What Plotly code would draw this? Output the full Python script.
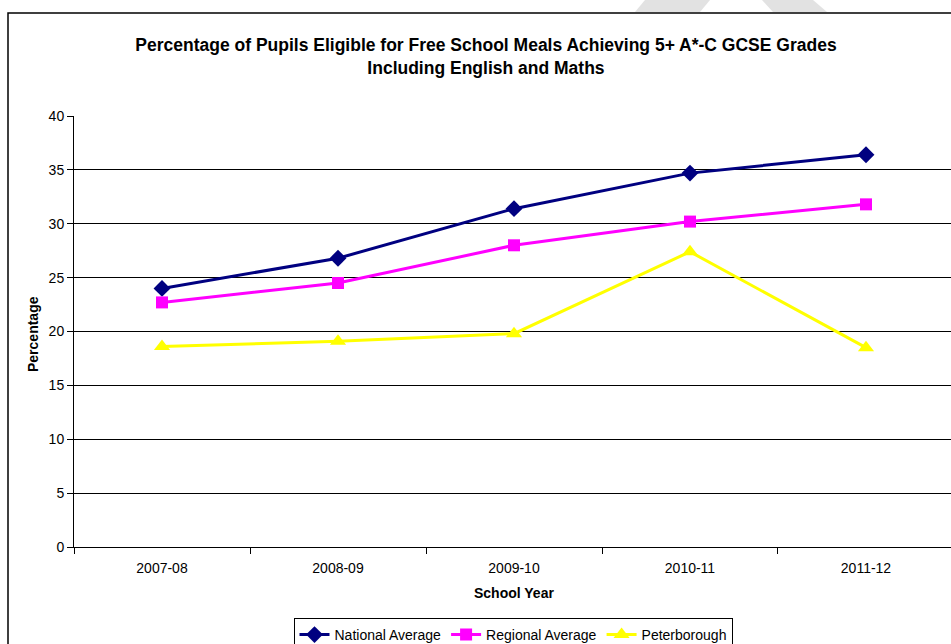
import plotly.graph_objects as go

# School years on the category axis
years = ["2007-08", "2008-09", "2009-10", "2010-11", "2011-12"]

# Percentage of FSM pupils achieving 5+ A*-C including English and Maths
national = [24.0, 26.8, 31.4, 34.7, 36.4]
regional = [22.7, 24.5, 28.0, 30.2, 31.8]
peterborough = [18.6, 19.1, 19.8, 27.4, 18.5]

series_names = ["National Average", "Regional Average", "Peterborough"]
y_ticks = [0, 5, 10, 15, 20, 25, 30, 35, 40]

FONT = "Liberation Sans, Arial, sans-serif"

# Plot area in pixels: left 74, top 116, width 877, height 431
PL, PT, PW, PH = 74, 116, 877, 431


def px(x):
    return (x - PL) / PW


def py(y):
    return (PT + PH - y) / PH


fig = go.Figure()
styles = [
    (national, "#000080", "diamond", 13),
    (regional, "#FF00FF", "square", 12),
    (peterborough, "#FFFF00", "triangle-up", 14),
]
for name, (vals, color, symbol, size) in zip(series_names, styles):
    fig.add_trace(go.Scatter(
        x=years, y=vals, name=name, mode="lines+markers",
        line=dict(color=color, width=3),
        marker=dict(color=color, symbol=symbol, size=size, line=dict(width=0)),
    ))

fig.update_layout(
    width=951, height=644,
    margin=dict(l=PL, r=0, t=PT, b=644 - PT - PH, autoexpand=False),
    paper_bgcolor="white", plot_bgcolor="white",
    font=dict(family=FONT, size=14, color="black"),
    title=dict(
        text="<b>Percentage of Pupils Eligible for Free School Meals Achieving 5+ A*-C GCSE Grades<br>Including English and Maths</b>",
        x=0.511, xanchor="center", y=1 - 51 / 644, yanchor="middle",
        font=dict(family=FONT, size=17.5, color="black"),
    ),
    showlegend=True,
    legend=dict(
        orientation="h", x=px(513), xanchor="center",
        yref="container", y=1 - 618 / 644, yanchor="top",
        bordercolor="black", borderwidth=1, bgcolor="white",
        font=dict(family=FONT, size=14, color="black"),
        itemwidth=30, tracegroupgap=0,
    ),
)

fig.update_xaxes(
    type="category", range=[-0.5, 4.483],
    showline=True, linecolor="black", linewidth=1,
    ticks="outside", tickson="boundaries", ticklen=6, tickcolor="black",
    ticklabelstandoff=8,
    showgrid=False, fixedrange=True,
    tickfont=dict(family=FONT, size=14, color="black"),
)
fig.update_yaxes(
    range=[0, 40], tickvals=y_ticks,
    showline=True, linecolor="black", linewidth=1,
    ticks="outside", ticklen=6, tickcolor="black",
    showgrid=True, gridcolor="black", gridwidth=1, zeroline=False,
    tickfont=dict(family=FONT, size=14, color="black"),
)

# Axis titles
fig.add_annotation(
    text="<b>Percentage</b>", xref="paper", yref="paper",
    x=px(33), y=py(334), xanchor="center", yanchor="middle",
    textangle=-90, showarrow=False,
    font=dict(family=FONT, size=14, color="black"),
)
fig.add_annotation(
    text="<b>School Year</b>", xref="paper", yref="paper",
    x=px(514), y=py(593), xanchor="center", yanchor="middle",
    showarrow=False,
    font=dict(family=FONT, size=14, color="black"),
)

# Chart frame
fig.add_shape(
    type="rect", xref="paper", yref="paper",
    x0=px(8), x1=1.05, y0=-0.3, y1=py(13),
    line=dict(color="black", width=1.5), fillcolor="rgba(0,0,0,0)", layer="below",
)

# Faint grey bands along the top edge of the page
for pts in ([(645, 0), (710, 0), (700, 12), (635, 12)],
            [(762, 0), (813, 0), (827, 12), (773, 12)]):
    path = "M " + " L ".join(f"{px(a)},{py(b)}" for a, b in pts) + " Z"
    fig.add_shape(
        type="path", xref="paper", yref="paper", path=path,
        fillcolor="#e2e2e2", line=dict(width=0), layer="below",
    )

fig.write_html("out.html")
